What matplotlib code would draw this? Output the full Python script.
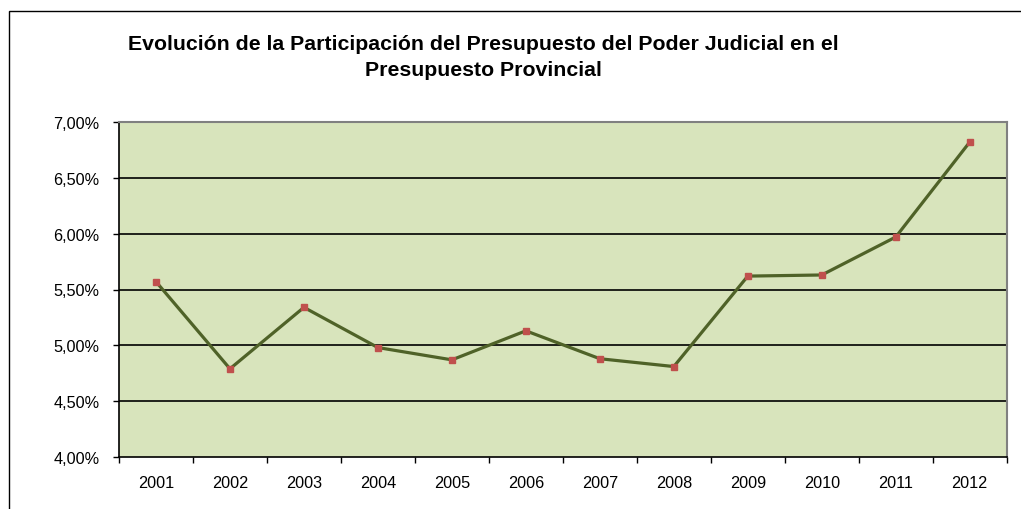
import numpy as np
import matplotlib
matplotlib.use("Agg")
import matplotlib.pyplot as plt
from matplotlib.patches import Rectangle
from matplotlib.ticker import FuncFormatter

years = ["2001", "2002", "2003", "2004", "2005", "2006",
         "2007", "2008", "2009", "2010", "2011", "2012"]
participacion = [5.57, 4.79, 5.34, 4.98, 4.87, 5.13,
                 4.88, 4.81, 5.62, 5.63, 5.97, 6.82]
y_ticks = [4.0, 4.5, 5.0, 5.5, 6.0, 6.5, 7.0]
title = ("Evolución de la Participación del Presupuesto del Poder Judicial en el\n"
         "Presupuesto Provincial")

plt.rcParams['font.family'] = ['Liberation Sans', 'DejaVu Sans']

W, H = 1021, 510
fig = plt.figure(figsize=(W / 100, H / 100), dpi=100)

# chart frame (runs off the right and bottom edges)
fig.patches.append(Rectangle((8.5 / W, -0.1), 1.2, (H - 11.5) / H + 0.1,
                             transform=fig.transFigure, fill=False,
                             edgecolor="black", linewidth=1.0))

ax = fig.add_axes([119 / W, (H - 458) / H, (1006.7 - 119) / W, (458 - 123) / H])
ax.set_facecolor("#D8E4BC")

x = np.arange(len(years))
ax.plot(x, participacion, color="#4F6228", linewidth=2.3, zorder=3)
ax.plot(x, participacion, linestyle="none", marker="s", markersize=5,
        color="#C0504D", zorder=4)

ax.set_xlim(-0.5, len(years) - 0.5)
ax.set_ylim(4.0, 7.0)

ax.set_yticks(y_ticks)
ax.yaxis.set_major_formatter(FuncFormatter(lambda v, p: f"{v:.2f}".replace(".", ",") + "%"))
for v in y_ticks[1:-1]:
    ax.axhline(v, color="black", linewidth=1.2, zorder=2)

ax.set_xticks(x)
ax.set_xticklabels(years)
ax.set_xticks(np.arange(-0.5, len(years)), minor=True)
ax.tick_params(axis="x", which="major", length=0, pad=13, labelsize=11.7)
ax.tick_params(axis="x", which="minor", length=4, width=1, direction="out")
ax.tick_params(axis="y", length=4, width=1, direction="out", pad=10, labelsize=11.7)

for side in ["top", "right"]:
    ax.spines[side].set_color("#808080")
    ax.spines[side].set_linewidth(1.5)
for side in ["left", "bottom"]:
    ax.spines[side].set_color("black")
    ax.spines[side].set_linewidth(1.2)

fig.text(483 / W, 1 - 35 / H, title, ha="center", va="top",
         fontsize=15.3, fontweight="bold", linespacing=1.5)

fig.savefig("out.png", dpi=100)
